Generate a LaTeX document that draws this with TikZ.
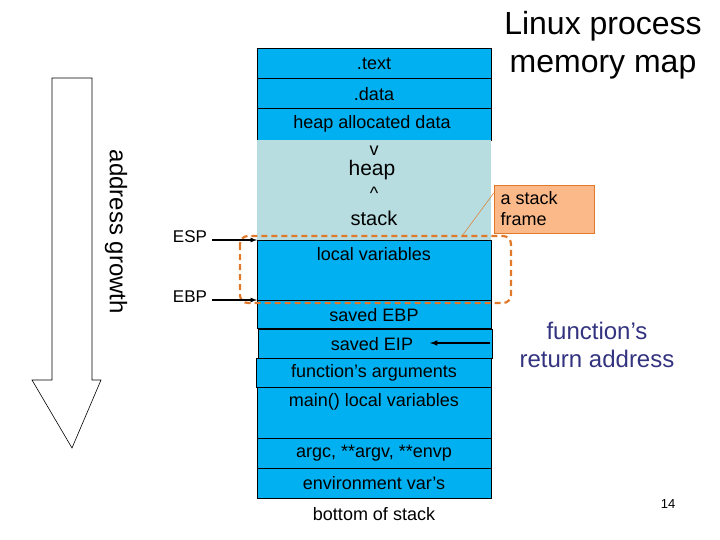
\documentclass[tikz,border=0pt]{standalone}
\usepackage{fontspec}
\setmainfont{Liberation Sans}
\begin{document}
\begin{tikzpicture}[x=1pt,y=-1pt,
  cell/.style={draw=black,fill=cyanbox,line width=0.8pt},
  lbl/.style={font=\fontsize{18}{20}\selectfont},
  ptr/.style={-latex,line width=1.2pt}]
\definecolor{cyanbox}{HTML}{00B0F0}
\definecolor{gapbox}{HTML}{B7DDE0}
\definecolor{orng}{HTML}{E07A2A}
\definecolor{frm}{HTML}{FBB98A}
\definecolor{dblue}{HTML}{333380}
\useasboundingbox (0,0) rectangle (720,540);
% cells
\draw[cell] (257,48) rectangle (491,78);
\draw[cell] (257,78) rectangle (491,108);
\draw[cell] (257,108) rectangle (491,140);
\draw[fill=gapbox,draw=none] (257,140) rectangle (491,240);
\draw[cell] (257,240) rectangle (491,300);
\draw[cell] (257,300) rectangle (491,328);
\draw[cell] (258,329) rectangle (492,358);
\draw[cell] (256,358) rectangle (491,387);
\draw[cell] (257,387) rectangle (491,438);
\draw[cell] (257,438) rectangle (491,468);
\draw[cell] (257,468) rectangle (491,498);
\node[lbl] (t1) at (374,64) {.text};
\node[lbl] (t2) at (374,94) {.data};
\node[lbl] (t3) at (372,124) {heap allocated data};
\node[lbl] (v) at (374,151) {v};
\node[font=\fontsize{21}{23}\selectfont] (hp) at (372,170) {heap};
\node[lbl] (up) at (374,193) {\^{}};
\node[font=\fontsize{20}{22}\selectfont] (st) at (374,218) {stack};
\node[lbl] (lv) at (374,254) {local variables};
\node[lbl] (sebp) at (374,315) {saved EBP};
\node[lbl] (seip) at (372,344) {saved EIP};
\node[lbl] (fa) at (374,373) {function’s arguments};
\node[lbl] (ml) at (374,402) {main() local variables};
\node[lbl] (ar) at (374,453) {argc, **argv, **envp};
\node[lbl] (en) at (374,483) {environment var’s};
\node[lbl] (bs) at (374,514) {bottom of stack};
% stack frame
\draw[orng,line width=2.2pt,dash pattern=on 6pt off 4pt,rounded corners=8pt] (240,236) rectangle (511,303);
\node[draw=orng,fill=frm,line width=0.5pt,minimum width=100pt,minimum height=48pt,inner sep=0pt] (sf) at (544,209) {};
\node[font=\fontsize{18}{21}\selectfont,align=left,anchor=west] (sft) at (497,209) {a stack\\frame};
\coordinate (sfp) at (462,236);
\draw[orng,line width=0.5pt] (sfp) -- (sf.west |- 0,193);
% ESP EBP
\node[font=\fontsize{17}{19}\selectfont] (esp) at (190,237) {ESP};
\node[font=\fontsize{17}{19}\selectfont] (ebp) at (190,297) {EBP};
\coordinate (espt) at (257,240);
\coordinate (ebpt) at (257,300);
\draw[ptr] (212,240) -- (espt);
\draw[ptr] (212,300) -- (ebpt);
% return address
\node[font=\fontsize{24}{28}\selectfont,text=dblue,align=center] (ra) at (597,345) {function’s\\return address};
\coordinate (raend) at (430,343);
\draw[ptr,line width=1.5pt] (490,343) -- (raend);
% title
\node[font=\fontsize{32}{38}\selectfont,align=center] (title) at (603,45) {Linux process\\memory map};
\node[font=\fontsize{13}{15}\selectfont] (pg) at (668,504) {14};
% address growth arrow
\draw[line width=0.6pt,fill=white] (52,78) -- (92,78) -- (92,380) -- (101,380) -- (72,448) -- (32,380) -- (52,380) -- cycle;
\node[font=\fontsize{24}{26}\selectfont,rotate=-90] (ag) at (116,232) {address growth};
\end{tikzpicture}
\end{document}
